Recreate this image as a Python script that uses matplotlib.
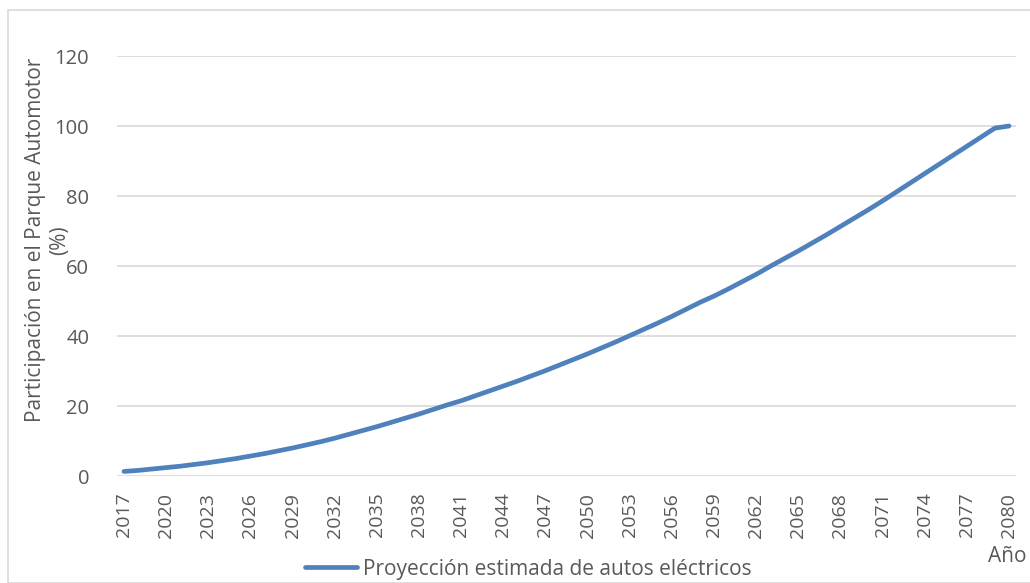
import matplotlib
matplotlib.use("Agg")
import matplotlib.pyplot as plt
from matplotlib.patches import Rectangle

# Data
YEARS = list(range(2017, 2081))
SHARE = [
    1.3, 1.6, 2.0, 2.4, 2.8, 3.3, 3.8, 4.4, 5.0, 5.7,
    6.4, 7.2, 8.0, 8.9, 9.8, 10.8, 11.9, 13.0, 14.1, 15.3,
    16.5, 17.7, 19.0, 20.3, 21.5, 22.9, 24.3, 25.7, 27.1, 28.6,
    30.1, 31.7, 33.3, 34.9, 36.6, 38.3, 40.1, 41.9, 43.7, 45.6,
    47.6, 49.6, 51.4, 53.4, 55.5, 57.6, 59.9, 62.1, 64.3, 66.6,
    68.9, 71.3, 73.7, 76.1, 78.6, 81.2, 83.8, 86.4, 89.0, 91.6,
    94.2, 96.8, 99.4, 100.0,
]
TICK_YEARS = YEARS[::3]
Y_TICKS = [0, 20, 40, 60, 80, 100, 120]

SERIES_LABEL = "Proyección estimada de autos eléctricos"
Y_LABEL = "Participación en el Parque Automotor\n(%)"
X_LABEL = "Año"

LINE_COLOR = "#4F81BD"
GRID_COLOR = "#D9D9D9"
TEXT_COLOR = "#595959"

W, H = 1030, 583
plt.rcParams["font.family"] = ["Open Sans", "DejaVu Sans"]

fig = plt.figure(figsize=(W / 100, H / 100), dpi=100)
fig.patches.append(
    Rectangle((8 / W, 0), 1.2, 1 - 10 / H, transform=fig.transFigure,
              fill=False, edgecolor=GRID_COLOR, linewidth=1.2)
)

ax = fig.add_axes([117 / W, 1 - 476 / H, (1016 - 117) / W, (476 - 56) / H])
ax.plot(YEARS, SHARE, color=LINE_COLOR, linewidth=3.4,
        solid_capstyle="round", label=SERIES_LABEL, zorder=3)

ax.set_xlim(YEARS[0] - 0.5, YEARS[-1] + 0.5)
ax.set_ylim(0, 120)
ax.set_yticks(Y_TICKS)
ax.set_xticks(TICK_YEARS)
ax.set_xticklabels([str(y) for y in TICK_YEARS], rotation=90)
ax.grid(True, axis="y", color=GRID_COLOR, linewidth=1.2, zorder=0)
for spine in ax.spines.values():
    spine.set_visible(False)
ax.tick_params(axis="both", length=0, colors=TEXT_COLOR)
ax.tick_params(axis="x", pad=12, labelsize=14)
ax.tick_params(axis="y", pad=20, labelsize=14.5)

fig.text(48 / W, 1 - 240 / H, Y_LABEL, rotation=90, ha="center", va="center",
         multialignment="center", fontsize=15, color=TEXT_COLOR, linespacing=1.2)
fig.text(1027 / W, 1 - 556 / H, X_LABEL, ha="right", va="center",
         fontsize=15, color=TEXT_COLOR)

fig.legend(loc="center", bbox_to_anchor=(528 / W, 1 - 569 / H), frameon=False,
           fontsize=15, labelcolor=TEXT_COLOR, handlelength=2.5,
           handletextpad=0.3, borderpad=0)

fig.savefig("out.png", dpi=100)
